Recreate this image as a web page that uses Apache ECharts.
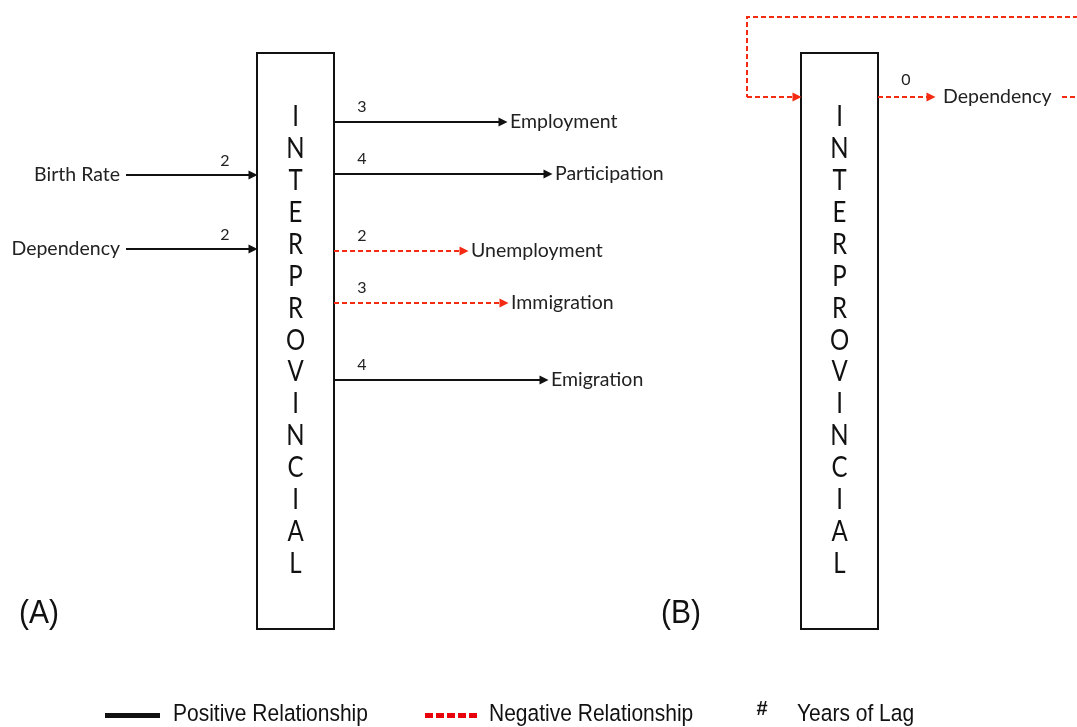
<!DOCTYPE html>
<html>
<head>
<meta charset="utf-8">
<title>Interprovincial migration relationships</title>
<script src="https://cdn.jsdelivr.net/npm/echarts@6/dist/echarts.min.js"></script>
<style>
  html, body { margin: 0; padding: 0; background: #fff; }
  #chart { width: 1077px; height: 727px; }
</style>
</head>
<body>
<div id="chart"></div>
<script>
// ---- data ----
const boxLetters = "INTERPROVINCIAL".split("");
const panelLabels = ["(A)", "(B)"];

// panel A: drivers of interprovincial migration
const inputNamesA = ["Birth Rate", "Dependency"];
const inputLagsA = [2, 2];
const inputSignsA = ["positive", "positive"];

// panel A: what interprovincial migration drives
const outputNamesA = ["Employment", "Participation", "Unemployment", "Immigration", "Emigration"];
const outputLagsA = [3, 4, 2, 3, 4];
const outputSignsA = ["positive", "positive", "negative", "negative", "positive"];

// panel B: feedback with dependency
const outputNamesB = ["Dependency"];
const outputLagsB = [0];
const outputSignsB = ["negative"];

const legendLabels = ["Positive Relationship", "Negative Relationship", "Years of Lag"];

// ---- layout (axis units, the axes span the whole canvas) ----
const W = 1077, H = 727;
const boxA = { x0: 257, x1: 334, y0: 53, y1: 629 };
const boxB = { x0: 801, x1: 878, y0: 53, y1: 629 };
const letterTop = 117, letterStep = 31.9;
const inputRowsA = [175, 249], inputStartA = 126;
const outputRowsA = [122, 174, 251, 303, 380];
const outputEndsA = [507, 552, 468, 508, 548];
const outputRowsB = [97], outputEndsB = [935];
const loopB = [[1062, 97], [1110, 97], [1110, 17], [747, 17], [747, 97]];
const panelLabelPos = [[19, 614], [661, 614]];
const legendY = 715;
const legendSampleX = [[105, 160], [425, 480]];
const legendTextX = [173, 489, 797];
const tip = 4; // half the arrowhead, so the point lands on the target

const BLACK = "#111";
const RED = "#f42a12";
const TEXT = "#222";

function styleFor(sign) {
  return sign === "positive"
    ? { color: BLACK, width: 2, type: "solid", opacity: 1 }
    : { color: RED, width: 2, type: [5, 3], opacity: 1 };
}

// ---- arrows ----
const arrows = [];
inputNamesA.forEach(function (n, i) {
  arrows.push({ coords: [[inputStartA, inputRowsA[i]], [boxA.x0 - tip, inputRowsA[i]]], lineStyle: styleFor(inputSignsA[i]) });
});
outputNamesA.forEach(function (n, i) {
  arrows.push({ coords: [[boxA.x1, outputRowsA[i]], [outputEndsA[i] - tip, outputRowsA[i]]], lineStyle: styleFor(outputSignsA[i]) });
});
outputNamesB.forEach(function (n, i) {
  arrows.push({ coords: [[boxB.x1, outputRowsB[i]], [outputEndsB[i] - tip, outputRowsB[i]]], lineStyle: styleFor(outputSignsB[i]) });
});
// last leg of the feedback loop, back into box B
const loopEnd = loopB[loopB.length - 1];
arrows.push({ coords: [loopEnd, [boxB.x0 - tip, loopEnd[1]]], lineStyle: styleFor("negative") });

// ---- texts ----
const nameTexts = [];
inputNamesA.forEach(function (n, i) {
  nameTexts.push({ x: inputStartA - 6, y: inputRowsA[i], text: n, align: "right" });
});
outputNamesA.forEach(function (n, i) {
  nameTexts.push({ x: outputEndsA[i] + 3, y: outputRowsA[i], text: n, align: "left" });
});
outputNamesB.forEach(function (n, i) {
  nameTexts.push({ x: outputEndsB[i] + 8, y: outputRowsB[i], text: n, align: "left" });
});

const lagTexts = [];
inputLagsA.forEach(function (v, i) {
  lagTexts.push({ x: boxA.x0 - 32, y: inputRowsA[i] - 14, text: String(v), align: "center" });
});
outputLagsA.forEach(function (v, i) {
  lagTexts.push({ x: boxA.x1 + 28, y: outputRowsA[i] - 15, text: String(v), align: "center" });
});
outputLagsB.forEach(function (v, i) {
  lagTexts.push({ x: boxB.x1 + 28, y: outputRowsB[i] - 17, text: String(v), align: "center" });
});

const letterTexts = [];
[boxA, boxB].forEach(function (b) {
  boxLetters.forEach(function (ch, i) {
    letterTexts.push({ x: (b.x0 + b.x1) / 2, y: letterTop + i * letterStep, text: ch, align: "center", scaleY: 1.2 });
  });
});

const panelTexts = panelLabels.map(function (t, i) {
  return { x: panelLabelPos[i][0], y: panelLabelPos[i][1], text: t, align: "left", scaleY: 1.1 };
});

const legendTexts = legendLabels.map(function (t, i) {
  return { x: legendTextX[i], y: legendY, text: t, align: "left", scaleY: 1.1 };
});
const lagMark = [{ x: 762, y: 709, text: "#", align: "center" }];

function textSeries(items, font) {
  return {
    type: "custom",
    coordinateSystem: "cartesian2d",
    silent: true,
    data: items.map(function (d) { return [d.x, d.y]; }),
    renderItem: function (params, api) {
      const d = items[params.dataIndex];
      const p = api.coord([api.value(0), api.value(1)]);
      return {
        type: "text",
        x: p[0],
        y: p[1],
        scaleY: d.scaleY || 1,
        style: {
          text: d.text,
          fill: font.color || TEXT,
          fontSize: font.size,
          fontFamily: font.family,
          fontWeight: font.weight || "normal",
          align: d.align,
          verticalAlign: "middle"
        }
      };
    }
  };
}

const chart = echarts.init(document.getElementById("chart"));
chart.setOption({
  backgroundColor: "#fff",
  animation: false,
  grid: { left: 0, right: 0, top: 0, bottom: 0 },
  xAxis: { type: "value", min: 0, max: W, show: false },
  yAxis: { type: "value", min: 0, max: H, inverse: true, show: false },
  series: [
    {
      // boxes
      type: "custom",
      coordinateSystem: "cartesian2d",
      silent: true,
      data: [boxA, boxB].map(function (b) { return [b.x0, b.y0, b.x1, b.y1]; }),
      renderItem: function (params, api) {
        const a = api.coord([api.value(0), api.value(1)]);
        const b = api.coord([api.value(2), api.value(3)]);
        return {
          type: "rect",
          shape: { x: a[0], y: a[1], width: b[0] - a[0], height: b[1] - a[1] },
          style: { fill: "#fff", stroke: BLACK, lineWidth: 2 }
        };
      }
    },
    {
      type: "lines",
      coordinateSystem: "cartesian2d",
      silent: true,
      symbol: ["none", "triangle"],
      symbolSize: [9, 9],
      data: arrows
    },
    {
      type: "lines",
      coordinateSystem: "cartesian2d",
      polyline: true,
      silent: true,
      data: [{ coords: loopB, lineStyle: styleFor("negative") }]
    },
    {
      // legend samples
      type: "lines",
      coordinateSystem: "cartesian2d",
      silent: true,
      symbol: "none",
      data: [
        { coords: [[legendSampleX[0][0], legendY], [legendSampleX[0][1], legendY]], lineStyle: { color: BLACK, width: 5, type: "solid", opacity: 1 } },
        { coords: [[legendSampleX[1][0], legendY], [legendSampleX[1][1], legendY]], lineStyle: { color: "#e8000b", width: 5, type: [8, 3], opacity: 1 } }
      ]
    },
    textSeries(nameTexts, { size: 19.5, family: "Lato" }),
    textSeries(lagTexts, { size: 16, family: "Lato" }),
    textSeries(letterTexts, { size: 24, family: "Lato", color: "#111" }),
    textSeries(panelTexts, { size: 30, family: "Liberation Sans", color: "#111" }),
    textSeries(legendTexts, { size: 21, family: "Liberation Sans", color: "#111" }),
    textSeries(lagMark, { size: 20, family: "Liberation Sans", color: "#111", weight: "bold" })
  ]
});
</script>
</body>
</html>
